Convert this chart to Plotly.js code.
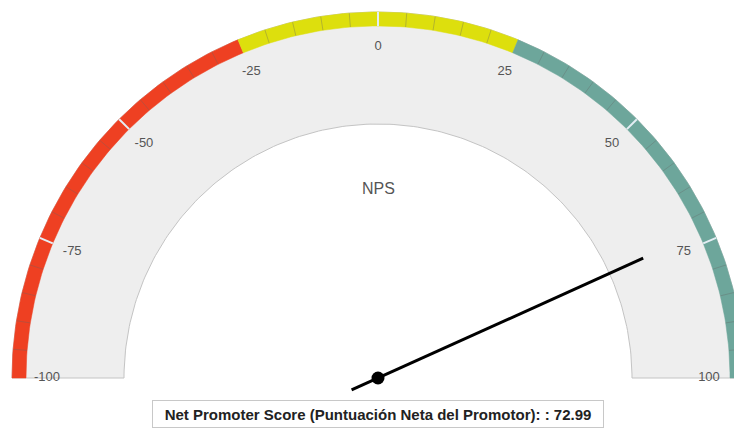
<!DOCTYPE html>
<html><head><meta charset="utf-8">
<script src="https://cdn.plot.ly/plotly-3.0.1.min.js"></script>
<style>html,body{margin:0;padding:0;background:#fff;}#chart{width:734px;height:430px;}</style>
</head><body><div id="chart"></div>
<script>
// ---- data ----
const gaugeMin = -100;
const gaugeMax = 100;
const bandFrom = [-100, -25, 25];
const bandTo = [-25, 25, 100];
const tickValues = [-100, -75, -50, -25, 0, 25, 50, 75, 100];
const tickLabels = ['-100', '-75', '-50', '-25', '0', '25', '50', '75', '100'];
const minorTickStep = 5;
const npsValue = 72.99;
const gaugeTitle = 'NPS';
const seriesName = 'Net Promoter Score (Puntuación Neta del Promotor)';

// ---- styles / geometry ----
const bandColors = ['#EE4022', '#DDDF0D', '#6DA69B'];
const R_OUT = 366, R_BAND = 352, R_IN = 254, R_LABEL = 331;
const NEEDLE_LEN = 291, NEEDLE_TAIL = 29;
const FONT = 'Liberation Sans, Arial, sans-serif';

function ang(v){ return Math.PI * (1 - (v - gaugeMin) / (gaugeMax - gaugeMin)); }
function pt(v, r){ const a = ang(v); return [r * Math.cos(a), r * Math.sin(a)]; }
function arc(v0, v1, r0, r1){
  const xs = [], ys = [];
  const n = Math.max(2, Math.ceil(Math.abs(v1 - v0)));
  for (let i = 0; i <= n; i++){ const p = pt(v0 + (v1 - v0) * i / n, r1); xs.push(p[0]); ys.push(p[1]); }
  for (let i = n; i >= 0; i--){ const p = pt(v0 + (v1 - v0) * i / n, r0); xs.push(p[0]); ys.push(p[1]); }
  xs.push(xs[0]); ys.push(ys[0]);
  return {xs, ys};
}

const traces = [];
// background
const bg = arc(gaugeMin, gaugeMax, R_IN, R_OUT);
traces.push({x: bg.xs, y: bg.ys, mode: 'lines', fill: 'toself', fillcolor: '#EEEEEE',
  line: {color: '#C4C4C4', width: 1}, hoverinfo: 'skip'});
// colored bands
bandFrom.forEach((f, i) => {
  const b = arc(f, bandTo[i], R_BAND, R_OUT);
  traces.push({x: b.xs, y: b.ys, mode: 'lines', fill: 'toself', fillcolor: bandColors[i],
    line: {color: bandColors[i], width: 0.5}, hoverinfo: 'skip'});
});
// ticks across the band (none on band boundaries)
const mx = [], my = [], Mx = [], My = [];
for (let v = gaugeMin + minorTickStep; v < gaugeMax; v += minorTickStep){
  if (bandFrom.indexOf(v) >= 0) continue;
  const a = pt(v, R_BAND), b = pt(v, R_OUT);
  if (tickValues.indexOf(v) >= 0){ Mx.push(a[0], b[0], null); My.push(a[1], b[1], null); }
  else { mx.push(a[0], b[0], null); my.push(a[1], b[1], null); }
}
traces.push({x: mx, y: my, mode: 'lines', line: {color: 'rgba(100,100,100,0.35)', width: 1}, hoverinfo: 'skip'});
traces.push({x: Mx, y: My, mode: 'lines', line: {color: '#E4EEF4', width: 2}, hoverinfo: 'skip'});
// tick labels
traces.push({
  x: tickValues.map(v => pt(v, R_LABEL)[0]),
  y: tickValues.map(v => pt(v, R_LABEL)[1]),
  mode: 'text', text: tickLabels, textposition: 'middle center',
  textfont: {family: FONT, size: 13, color: '#555555'}, hoverinfo: 'skip'
});
// needle
const tip = pt(npsValue, NEEDLE_LEN);
const tl = pt(npsValue, NEEDLE_TAIL);
traces.push({x: [-tl[0], tip[0]], y: [-tl[1], tip[1]], mode: 'lines',
  line: {color: '#000000', width: 3}, hoverinfo: 'skip'});
traces.push({x: [0], y: [0], mode: 'markers', marker: {color: '#000000', size: 13}, hoverinfo: 'skip'});

const layout = {
  width: 734, height: 430, autosize: false,
  margin: {l: 0, r: 0, t: 0, b: 0, pad: 0},
  paper_bgcolor: '#ffffff', plot_bgcolor: '#ffffff',
  showlegend: false, hovermode: false,
  xaxis: {range: [-378, 356], visible: false, fixedrange: true},
  yaxis: {range: [-52, 378], visible: false, fixedrange: true},
  annotations: [
    {x: 0, y: 190, xref: 'x', yref: 'y', text: gaugeTitle, showarrow: false,
     font: {family: FONT, size: 16, color: '#555555'}},
    {x: 0, y: -36, xref: 'x', yref: 'y', showarrow: false,
     text: '<b>' + seriesName + ': : ' + npsValue.toFixed(2) + '</b>',
     width: 450, height: 26, borderpad: 0,
     bgcolor: '#ffffff', bordercolor: '#C8C8C8', borderwidth: 1,
     font: {family: FONT, size: 15, color: '#222222'}}
  ]
};
Plotly.newPlot('chart', traces, layout, {displayModeBar: false, staticPlot: true});
</script>
</body></html>
